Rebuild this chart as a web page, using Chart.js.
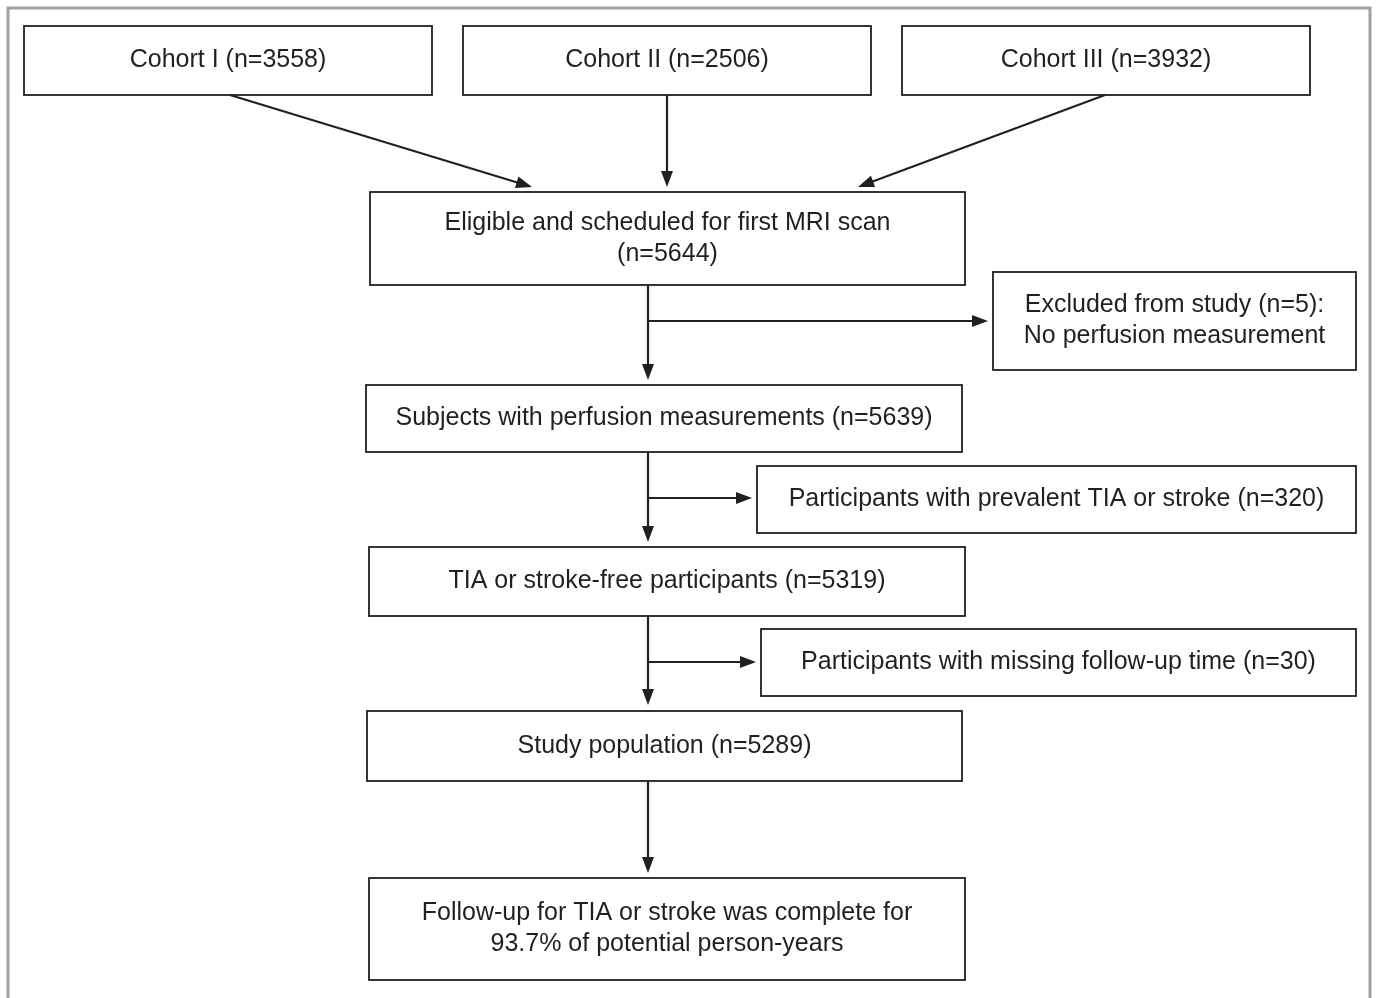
<!DOCTYPE html>
<html>
<head>
<meta charset="utf-8">
<script src="https://cdn.jsdelivr.net/npm/chart.js@4/dist/chart.umd.min.js"></script>
<style>
  html, body { margin: 0; padding: 0; background: #fff; }
  #wrap { width: 1377px; height: 998px; position: relative; }
</style>
</head>
<body>
<div id="wrap"><canvas id="flow"></canvas></div>
<script>
// flowchart boxes: label lines and corners in chart units (x1, y1, x2, y2)
const boxLabels = [
  ['Cohort I (n=3558)'],
  ['Cohort II (n=2506)'],
  ['Cohort III (n=3932)'],
  ['Eligible and scheduled for first MRI scan', '(n=5644)'],
  ['Excluded from study (n=5):', 'No perfusion measurement'],
  ['Subjects with perfusion measurements (n=5639)'],
  ['Participants with prevalent TIA or stroke (n=320)'],
  ['TIA or stroke-free participants (n=5319)'],
  ['Participants with missing follow-up time (n=30)'],
  ['Study population (n=5289)'],
  ['Follow-up for TIA or stroke was complete for', '93.7% of potential person-years']
];
const boxX1 = [24, 463, 902, 370, 993, 366, 757, 369, 761, 367, 369];
const boxY1 = [26, 26, 26, 192, 272, 385, 466, 547, 629, 711, 878];
const boxX2 = [432, 871, 1310, 965, 1356, 962, 1356, 965, 1356, 962, 965];
const boxY2 = [95, 95, 95, 285, 370, 452, 533, 616, 696, 781, 980];

// arrows: from (x, y) to (x, y)
const arrowFrom = [[230, 95], [667, 95], [1105, 95], [648, 285], [648, 321], [648, 452], [648, 498], [648, 616], [648, 662], [648, 781]];
const arrowTo   = [[532, 187], [667, 187], [858, 187], [648, 380], [988, 321], [648, 542], [752, 498], [648, 705], [756, 662], [648, 873]];

const flowPlugin = {
  id: 'flow',
  afterDraw(chart) {
    const ctx = chart.ctx;
    const sx = chart.scales.x, sy = chart.scales.y;
    ctx.save();
    // outer frame
    ctx.strokeStyle = '#a0a0a0';
    ctx.lineWidth = 3;
    ctx.strokeRect(sx.getPixelForValue(8), sy.getPixelForValue(8),
      sx.getPixelForValue(1370) - sx.getPixelForValue(8), sy.getPixelForValue(1000) - sy.getPixelForValue(8));

    ctx.strokeStyle = '#231f20';
    ctx.fillStyle = '#231f20';
    ctx.lineWidth = 1.8;
    ctx.font = '25px "Liberation Sans", Arial, sans-serif';
    ctx.textAlign = 'center';
    ctx.textBaseline = 'middle';
    boxLabels.forEach((lines, i) => {
      const x1 = sx.getPixelForValue(boxX1[i]), x2 = sx.getPixelForValue(boxX2[i]);
      const y1 = sy.getPixelForValue(boxY1[i]), y2 = sy.getPixelForValue(boxY2[i]);
      ctx.strokeRect(x1, y1, x2 - x1, y2 - y1);
      const cx = (x1 + x2) / 2, cy = (y1 + y2) / 2;
      const lh = 31;
      lines.forEach((t, j) => {
        ctx.fillText(t, cx, cy + (j - (lines.length - 1) / 2) * lh);
      });
    });

    ctx.lineWidth = 2.2;
    arrowFrom.forEach((f, i) => {
      const t = arrowTo[i];
      const x1 = sx.getPixelForValue(f[0]), y1 = sy.getPixelForValue(f[1]);
      const x2 = sx.getPixelForValue(t[0]), y2 = sy.getPixelForValue(t[1]);
      const a = Math.atan2(y2 - y1, x2 - x1);
      const hl = 16, hw = 6;
      ctx.beginPath();
      ctx.moveTo(x1, y1);
      ctx.lineTo(x2 - Math.cos(a) * hl * 0.8, y2 - Math.sin(a) * hl * 0.8);
      ctx.stroke();
      ctx.beginPath();
      ctx.moveTo(x2, y2);
      ctx.lineTo(x2 - Math.cos(a) * hl - Math.sin(a) * hw, y2 - Math.sin(a) * hl + Math.cos(a) * hw);
      ctx.lineTo(x2 - Math.cos(a) * hl + Math.sin(a) * hw, y2 - Math.sin(a) * hl - Math.cos(a) * hw);
      ctx.closePath();
      ctx.fill();
    });
    ctx.restore();
  }
};

new Chart(document.getElementById('flow'), {
  type: 'scatter',
  data: { datasets: [{ data: [], pointRadius: 0 }] },
  options: {
    responsive: true,
    maintainAspectRatio: false,
    animation: false,
    layout: { padding: 0 },
    plugins: { legend: { display: false }, tooltip: { enabled: false } },
    scales: {
      x: { type: 'linear', min: 0, max: 1377, display: false },
      y: { type: 'linear', min: 0, max: 998, reverse: true, display: false }
    }
  },
  plugins: [flowPlugin]
});
</script>
</body>
</html>
